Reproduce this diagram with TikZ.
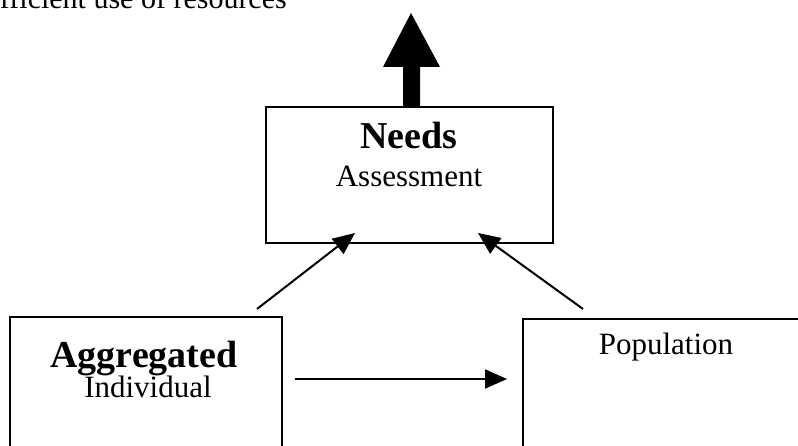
\documentclass[tikz,border=0pt]{standalone}
\usepackage{fontspec}
\setmainfont{Liberation Serif}
\usetikzlibrary{arrows.meta,calc}
\begin{document}
\begin{tikzpicture}[x=1pt,y=-1pt,
  boxnode/.style={draw=black,line width=1.5pt,rectangle,inner sep=0pt},
  headtext/.style={anchor=base,inner sep=0pt,font=\fontsize{38}{40}\selectfont\bfseries},
  subtext/.style={anchor=base,inner sep=0pt,font=\fontsize{31}{33}\selectfont},
  conn/.style={line width=2pt,-{Triangle[length=22pt,width=19pt]}}]
\clip (0,0) rectangle (798,446);
% top text
\node[anchor=base east,inner sep=0pt,font=\fontsize{30}{32}\selectfont] (goal) at (287,9) {Efficient use of resources};
% boxes
\node[boxnode,minimum width=287pt,minimum height=136pt] (needs) at (409.5,175) {};
\node[boxnode,minimum width=272pt,minimum height=153pt] (agg) at (146,393.5) {};
\node[boxnode,minimum width=297pt,minimum height=151pt] (pop) at (671.5,394.5) {};
% texts
\node[headtext] (needsT) at (409,149) {Needs};
\node[subtext] (needsS) at (409,187) {Assessment};
\node[headtext] (aggT) at (144,367) {Aggregated};
\node[subtext] (aggS) at (148,397) {Individual};
\node[subtext] (popT) at (666,355) {Population};
% thick arrow up
\fill[black] (403,107) -- (403,67) -- (383,67) -- (411,13) -- (440,67) -- (420,67) -- (420,107) -- cycle;
% connector points
\coordinate (aggOut) at (257,309);
\coordinate (needsInL) at (355,233);
\coordinate (popOut) at (583,309);
\coordinate (needsInR) at (478,233);
\coordinate (aggRight) at (295,379);
\coordinate (popLeft) at (507,379);
\draw[conn] (aggOut) -- (needsInL);
\draw[conn] (popOut) -- (needsInR);
\draw[conn] (aggRight) -- (popLeft);
\end{tikzpicture}
\end{document}
